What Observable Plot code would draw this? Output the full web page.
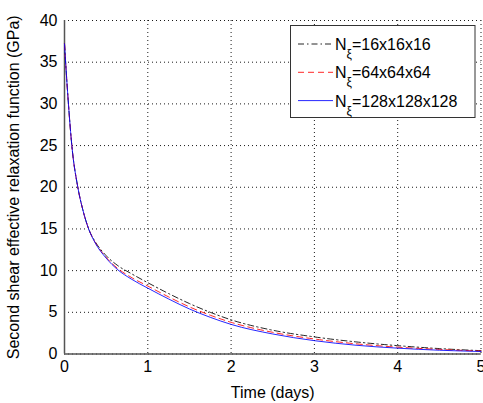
<!DOCTYPE html>
<html><head><meta charset="utf-8">
<script src="https://cdn.jsdelivr.net/npm/d3@7"></script>
<script src="https://cdn.jsdelivr.net/npm/@observablehq/plot@0.6"></script>
<style>
body{margin:0;background:#fff;}
svg{font-family:"Liberation Sans",Arial,sans-serif;}
</style></head><body>
<div id="chart"></div>
<script>
const times = [0, 0.016, 0.048, 0.088, 0.16, 0.22, 0.29, 0.37, 0.5, 0.64, 0.8, 1.0, 1.25, 1.5, 1.75, 2.0, 2.5, 3.0, 3.5, 4.0, 4.5, 5.0];
const n16  = [37.2, 34.6, 29.9, 25, 20, 17.3, 15, 13.45, 11.8, 10.6, 9.65, 8.55, 7.25, 6.05, 5.0, 4.1, 2.85, 2.05, 1.45, 1.0, 0.65, 0.4];
const n64  = [37.2, 34.6, 29.9, 25, 20, 17.3, 15, 13.35, 11.6, 10.25, 9.2, 8.15, 6.85, 5.65, 4.65, 3.8, 2.6, 1.8, 1.22, 0.82, 0.55, 0.35];
const n128 = [37.2, 34.6, 29.9, 25, 20, 17.3, 15, 13.3, 11.5, 10.1, 9.0, 7.9, 6.6, 5.4, 4.4, 3.55, 2.4, 1.6, 1.05, 0.7, 0.45, 0.3];
const xTicks = [0, 1, 2, 3, 4, 5];
const yTicks = [0, 5, 10, 15, 20, 25, 30, 35, 40];
const seriesNames = ["16x16x16", "64x64x64", "128x128x128"];
const seriesVals = [n16, n64, n128];
const seriesStyle = [
  {stroke: "#000000", dash: "6,3,1.5,3"},
  {stroke: "#ff0000", dash: "6,4"},
  {stroke: "#0000ff", dash: null}
];

const data = [];
seriesVals.forEach((vals, s) => times.forEach((t, i) => data.push({t, v: vals[i], s})));

const marks = [
  Plot.gridX(xTicks, {stroke: "#000", strokeOpacity: 0.9, strokeDasharray: "1,3"}),
  Plot.gridY(yTicks, {stroke: "#000", strokeOpacity: 0.9, strokeDasharray: "1,3"}),
  Plot.ruleX([0], {stroke: "#555", strokeWidth: 1.5}),
  Plot.ruleY([0], {stroke: "#555", strokeWidth: 1.5}),
  Plot.axisX(xTicks, {tickSize: 0, tickPadding: 7, fontSize: 16, label: "Time (days)", labelAnchor: "center", labelArrow: "none", labelOffset: 44}),
  Plot.axisY(yTicks, {tickSize: 0, tickPadding: 7, fontSize: 16, label: "Second shear effective relaxation function (GPa)", labelAnchor: "center", labelArrow: "none", labelOffset: 57})
];
seriesVals.forEach((vals, s) => {
  marks.push(Plot.line(data.filter(d => d.s === s), {
    x: "t", y: "v", curve: "monotone-x",
    stroke: seriesStyle[s].stroke, strokeWidth: 1, strokeOpacity: 0.85,
    strokeDasharray: seriesStyle[s].dash
  }));
});

const chart = Plot.plot({
  width: 483, height: 403,
  marginLeft: 64, marginRight: 2.5, marginTop: 20, marginBottom: 49.5,
  style: {fontFamily: '"Liberation Sans",Arial,sans-serif', fontSize: "16px", color: "#000", background: "#fff"},
  x: {domain: [0, 5]},
  y: {domain: [0, 40]},
  marks
});
document.getElementById("chart").appendChild(chart);

// Legend
const svg = d3.select(chart);
const lg = svg.append("g").attr("text-anchor", "start");
lg.append("rect").attr("x", 290.5).attr("y", 25.5).attr("width", 184.5).attr("height", 92)
  .attr("fill", "#fff").attr("stroke", "#333").attr("stroke-width", 1);
seriesNames.forEach((name, i) => {
  const y = 44 + i * 28.3;
  lg.append("line").attr("x1", 298).attr("x2", 333).attr("y1", y).attr("y2", y)
    .attr("stroke", seriesStyle[i].stroke).attr("stroke-width", 1).attr("stroke-opacity", 0.85)
    .attr("stroke-dasharray", seriesStyle[i].dash);
  const t = lg.append("text").attr("x", 335).attr("y", y + 6).attr("font-size", 16)
    .attr("fill", "#000").attr("text-anchor", "start");
  t.append("tspan").text("N");
  t.append("tspan").attr("dy", 8).attr("font-size", 12).text("ξ");
  t.append("tspan").attr("dy", -8).text("=" + name);
});
</script>
</body></html>
